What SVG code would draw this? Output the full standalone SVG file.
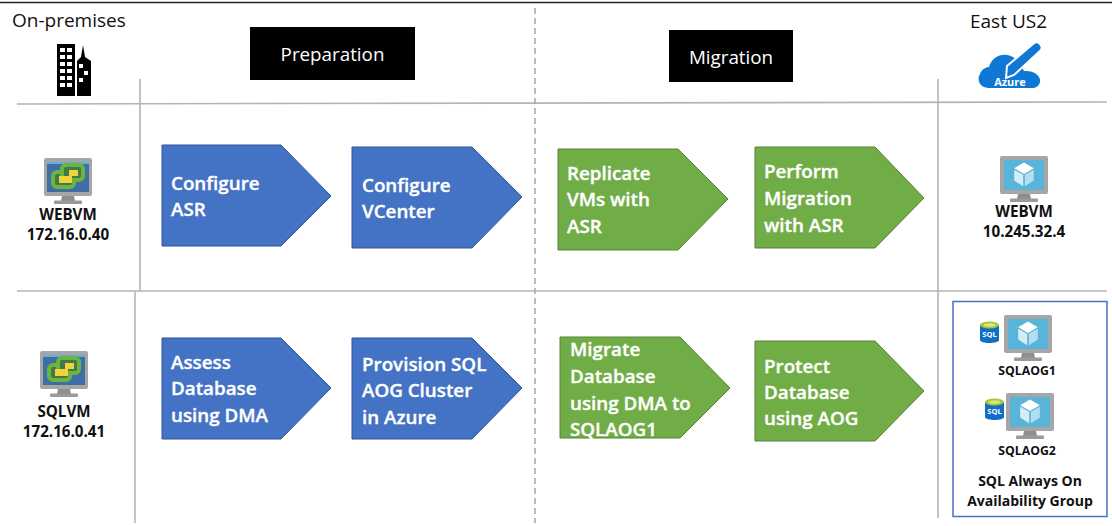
<svg xmlns="http://www.w3.org/2000/svg" width="1112" height="526" viewBox="0 0 1112 526">
<style>
text{font-family:"Open Sans","Noto Sans","Liberation Sans",sans-serif}
.h{font-size:19px;fill:#111}
.ph{font-size:18.8px;fill:#fff}
.t{font-size:18.8px;font-weight:600;fill:#fff;stroke:#fff;stroke-width:.35}
.l{font-size:15.2px;font-weight:700;fill:#111;text-anchor:middle}
.s{font-size:12.3px;font-weight:700;fill:#111;text-anchor:middle}
.c{font-size:14px;font-weight:700;fill:#111;text-anchor:middle}
.blue{fill:#4472c4;stroke:#2f5597;stroke-width:1}
.green{fill:#70ad47;stroke:#548235;stroke-width:1}
.g{stroke:#b4b4b4;stroke-width:1.6;fill:none}
</style>
<defs>
<g id="mon">
<path d="M18 38h12l1 5H17z" fill="#8f8f8f"/>
<rect x="10" y="42.500" width="28" height="3.500" rx="1" fill="#9a9a9a"/>
<rect x="0" y="0" width="48" height="38" rx="2" fill="#a6a6a6"/>
</g>
<g id="cube">
<path d="M0-8 12-1 0 6-12-1z" fill="#fff"/>
<path d="M-12 1 -1 7V21L-12 14z" fill="#d4ecf5"/>
<path d="M12 1 1 7V21L12 14z" fill="#b3deee"/>
</g>
<g id="azvm">
<use href="#mon"/>
<rect x="4" y="4" width="40" height="30" fill="#59b4d9"/>
<use href="#cube" transform="translate(24 13) scale(.82)"/>
</g>
<g id="vmw">
<use href="#mon"/>
<rect x="3" y="4" width="42" height="30" fill="#3f6ea6"/>
<rect x="3" y="4" width="42" height="2" fill="#59b4d9"/>
<rect x="9" y="14" width="21" height="15" rx="4" fill="#3f7a4a" stroke="#6cb33f" stroke-width="4"/>
<rect x="18" y="7" width="21" height="15" rx="4" fill="#3f7a4a" stroke="#6cb33f" stroke-width="4"/>
<path d="M25 12h9v6h-6v7H15v-7h10z" fill="#f2d33b"/>
</g>
<g id="sqldb">
<path d="M0 3V18C0 22 19 22 19 18V3z" fill="#0f6fc6"/>
<ellipse cx="9.500" cy="3" rx="9.500" ry="3.500" fill="#a4c639"/>
<ellipse cx="9.500" cy="3" rx="6" ry="1.800" fill="#d8e77a"/>
<text x="9.500" y="15" text-anchor="middle" style="font-size:7.500px;font-weight:700;fill:#fff">SQL</text>
</g>
</defs>

<g id="connectors">
<line x1="0" y1="2.500" x2="1112" y2="2.500" stroke="#222" stroke-width="1.300"/>
<line class="g" x1="17" y1="104" x2="1107" y2="102"/>
<line class="g" x1="17" y1="291" x2="1107" y2="291"/>
<line class="g" x1="140" y1="79" x2="140" y2="291"/>
<line class="g" x1="135" y1="291" x2="135" y2="523"/>
<line class="g" x1="938" y1="79" x2="938" y2="518"/>
<line x1="535" y1="8" x2="535" y2="523" stroke="#a6a6a6" stroke-width="1.500" stroke-dasharray="6 4"/>
</g>

<g id="on-premises">
<text class="h" x="12" y="27">On-premises</text>
<path d="M57 44H75V96H57zM77 96V61L81 57 83 45 85 57 91 61V96z" fill="#000"/>
<g fill="#fff"><rect x="60" y="48" width="5" height="4"/><rect x="67" y="48" width="5" height="4"/><rect x="60" y="55" width="5" height="4"/><rect x="67" y="55" width="5" height="4"/><rect x="60" y="62" width="5" height="4"/><rect x="67" y="62" width="5" height="4"/><rect x="60" y="69" width="5" height="4"/><rect x="67" y="69" width="5" height="4"/><rect x="60" y="76" width="5" height="4"/><rect x="67" y="76" width="5" height="4"/><rect x="60" y="83" width="5" height="4"/><rect x="67" y="83" width="5" height="4"/><rect x="79" y="64" width="4" height="4"/><rect x="84" y="71" width="4" height="4"/><rect x="79" y="78" width="4" height="4"/></g>
</g>
<g id="east-us2">
<text class="h" x="970" y="28">East US2</text>
<path d="M989 88C981 88 976 81 980 74 982 69 986 67 989 67 992 58 999 54 1007 55 1013 56 1017 59 1020 64L1024 71C1034 70 1041 76 1040 82 1039 86 1036 88 1032 88z" fill="#0f78d4"/>
<path d="M1007 66 1033 44C1035 42 1038 42 1040 44 1042 46 1042 49 1040 51L1014 75 1006 78z" fill="#0f78d4" stroke="#fff" stroke-width="2"/>
<text x="1010" y="86" text-anchor="middle" style="font-size:11px;font-weight:700;fill:#fff">Azure</text>
</g>
<g id="preparation">
<rect x="250" y="27" width="165" height="53" fill="#000"/>
<text class="ph" x="332.500" y="61" text-anchor="middle">Preparation</text>
</g>
<g id="migration">
<rect x="669" y="30" width="124" height="52" fill="#000"/>
<text class="ph" x="731" y="64" text-anchor="middle">Migration</text>
</g>

<g id="webvm-src">
<use href="#vmw" x="44" y="158"/>
<text class="l" x="68" y="220">WEBVM</text>
<text class="l" x="68" y="240">172.16.0.40</text>
</g>
<g id="sqlvm-src">
<use href="#vmw" x="40" y="351"/>
<text class="l" x="64" y="417">SQLVM</text>
<text class="l" x="64" y="437">172.16.0.41</text>
</g>
<g id="webvm-dst">
<use href="#azvm" x="1000" y="156"/>
<text class="l" x="1024" y="217">WEBVM</text>
<text class="l" x="1024" y="237">10.245.32.4</text>
</g>

<g id="configure-asr">
<path class="blue" d="M162 145H281L331 196 281 246H162z"/>
<text class="t" x="171" y="190">Configure</text><text class="t" x="171" y="216">ASR</text>
</g>
<g id="configure-vcenter">
<path class="blue" d="M352 147H472L522 197 472 248H352z"/>
<text class="t" x="362" y="192">Configure</text><text class="t" x="362" y="218">VCenter</text>
</g>
<g id="replicate">
<path class="green" d="M558 149H678L728 199 678 250H558z"/>
<text class="t" x="567" y="180">Replicate</text><text class="t" x="567" y="206">VMs with</text><text class="t" x="567" y="233">ASR</text>
</g>
<g id="perform">
<path class="green" d="M755 147H875L924 198 875 248H755z"/>
<text class="t" x="764" y="178">Perform</text><text class="t" x="764" y="205">Migration</text><text class="t" x="764" y="232">with ASR</text>
</g>
<g id="assess">
<path class="blue" d="M162 338H281L331 388 281 439H162z"/>
<text class="t" x="171" y="369">Assess</text><text class="t" x="171" y="395">Database</text><text class="t" x="171" y="422">using DMA</text>
</g>
<g id="provision">
<path class="blue" d="M352 338H472L522 388 472 439H352z"/>
<text class="t" x="362" y="371">Provision SQL</text><text class="t" x="362" y="397">AOG Cluster</text><text class="t" x="362" y="424">in Azure</text>
</g>
<g id="migrate">
<path class="green" d="M560 337H680L730 388 680 438H560z"/>
<text class="t" x="570" y="356">Migrate</text><text class="t" x="570" y="383">Database</text><text class="t" x="570" y="410">using DMA to</text><text class="t" x="570" y="436">SQLAOG1</text>
</g>
<g id="protect">
<path class="green" d="M755 341H875L924 391 875 441H755z"/>
<text class="t" x="764" y="373">Protect</text><text class="t" x="764" y="399">Database</text><text class="t" x="764" y="425">using AOG</text>
</g>

<g id="sql-aog">
<rect x="953" y="301.500" width="154" height="215" fill="#fff" stroke="#4472c4" stroke-width="1.500"/>
<use href="#azvm" x="1004" y="315"/>
<use href="#sqldb" x="980" y="322"/>
<text class="s" x="1027" y="375">SQLAOG1</text>
<use href="#azvm" x="1006" y="393"/>
<use href="#sqldb" x="985" y="399"/>
<text class="s" x="1027" y="455">SQLAOG2</text>
<text class="c" x="1030" y="486">SQL Always On</text>
<text class="c" x="1030" y="506">Availability Group</text>
</g>
</svg>
